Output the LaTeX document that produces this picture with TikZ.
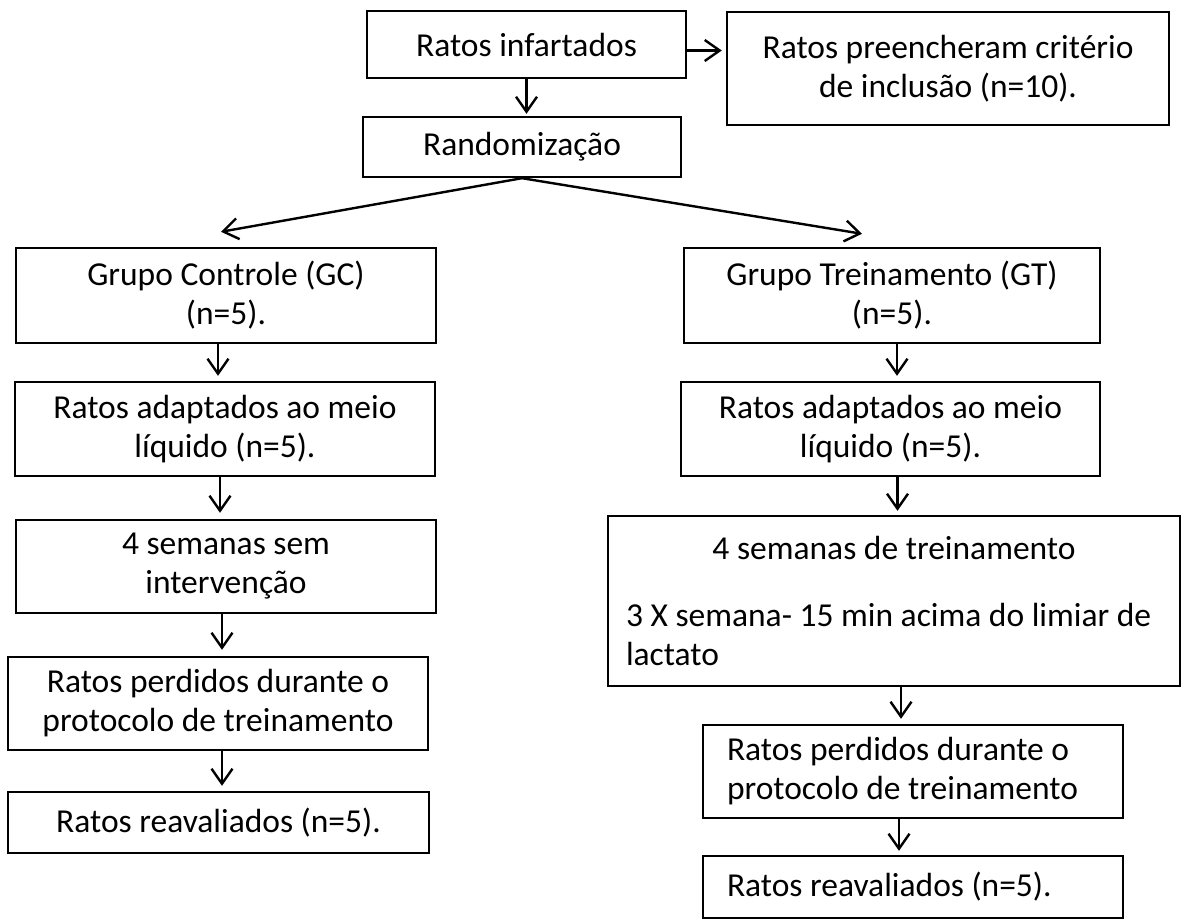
\documentclass[tikz,border=0pt]{standalone}
\usepackage{fontspec}
\setmainfont{Carlito}
\usetikzlibrary{arrows.meta}

\begin{document}
\begin{tikzpicture}[x=1pt, y=-1pt, line width=2.4pt,
    >={Straight Barb[length=15pt,width=21pt,line width=2.4pt]},
    box/.style={draw, inner sep=0pt, align=center, font=\fontsize{33.5}{39}\selectfont},
    lbox/.style={draw, inner ysep=0pt, align=flush left, font=\fontsize{33.5}{39}\selectfont}]
        \useasboundingbox (0,0) rectangle (1182,920);
        % topo
        \node[box, minimum width=319, minimum height=67] (inf) at (526.5,44.5) {Ratos infartados};
        \node[box, minimum width=442, minimum height=113] (incl) at (948,68.5) {Ratos preencheram critério\\de inclusão (n=10).};
        \node[box, minimum width=318, minimum height=60] (rand) at (522,147) {Randomização};
        \draw[->] ([yshift=-6pt]inf.east) -- ([yshift=-6pt, xshift=-4pt]inf.east -| incl.west);
        \draw[->] (inf.south) -- ([yshift=2pt]inf.south |- rand.north);
        % grupo controle
        \node[box, minimum width=420, minimum height=95] (gc) at (226,295.5) {Grupo Controle (GC)\\(n=5).};
        \node[box, minimum width=420, minimum height=94] (adgc) at (225,429) {Ratos adaptados ao meio\\líquido (n=5).};
        \node[box, minimum width=420, minimum height=93] (semgc) at (226,566.5) {4 semanas sem\\intervenção};
        \node[box, minimum width=420, minimum height=93] (perdgc) at (218,703.5) {Ratos perdidos durante o\\protocolo de treinamento};
        \node[box, minimum width=421, minimum height=61] (reavgc) at (218.5,822.5) {Ratos reavaliados (n=5).};
        % grupo treinamento
        \node[box, minimum width=416, minimum height=95] (gt) at (892,295.5) {Grupo Treinamento (GT)\\(n=5).};
        \node[box, minimum width=419, minimum height=94] (adgt) at (890.5,429) {Ratos adaptados ao meio\\líquido (n=5).};
        \node[lbox, minimum width=572, minimum height=170, text width=536, inner xsep=18pt] (semgt) at (894,601)
            {\makebox[536pt]{4 semanas de treinamento}\\[28pt]3 X semana- 15 min acima do limiar de\\lactato};
        \node[lbox, minimum width=420, minimum height=93, text width=372, inner xsep=24pt] (perdgt) at (913,771.5) {Ratos perdidos durante o\\protocolo de treinamento};
        \node[lbox, minimum width=420, minimum height=62, text width=372, inner xsep=24pt] (reavgt) at (913,887) {Ratos reavaliados (n=5).};
        % randomizacao
        \draw[->] (rand.south) -- ([xshift=-5pt, yshift=15pt]gc.north);
        \draw[->] (rand.south) -- ([xshift=-30pt, yshift=13pt]gt.north);
        % setas verticais
        \draw[->] ([xshift=-8pt]gc.south) -- ([xshift=-8pt, yshift=5pt]gc.south |- adgc.north);
        \draw[->] ([xshift=-5pt]adgc.south) -- ([xshift=-5pt, yshift=6pt]adgc.south |- semgc.north);
        \draw[->] ([xshift=-4pt]semgc.south) -- ([xshift=-4pt, yshift=6pt]semgc.south |- perdgc.north);
        \draw[->] ([xshift=4pt]perdgc.south) -- ([xshift=4pt, yshift=5pt]perdgc.south |- reavgc.north);
        \draw[->] ([xshift=5pt]gt.south) -- ([xshift=5pt, yshift=5pt]gt.south |- adgt.north);
        \draw[->] ([xshift=7pt]adgt.south) -- ([xshift=7pt, yshift=4pt]adgt.south |- semgt.north);
        \draw[->] ([xshift=7pt]semgt.south) -- ([xshift=7pt, yshift=5pt]semgt.south |- perdgt.north);
        \draw[->] ([xshift=-14pt]perdgt.south) -- ([xshift=-14pt, yshift=4pt]perdgt.south |- reavgt.north);
      \end{tikzpicture}
\end{document}
